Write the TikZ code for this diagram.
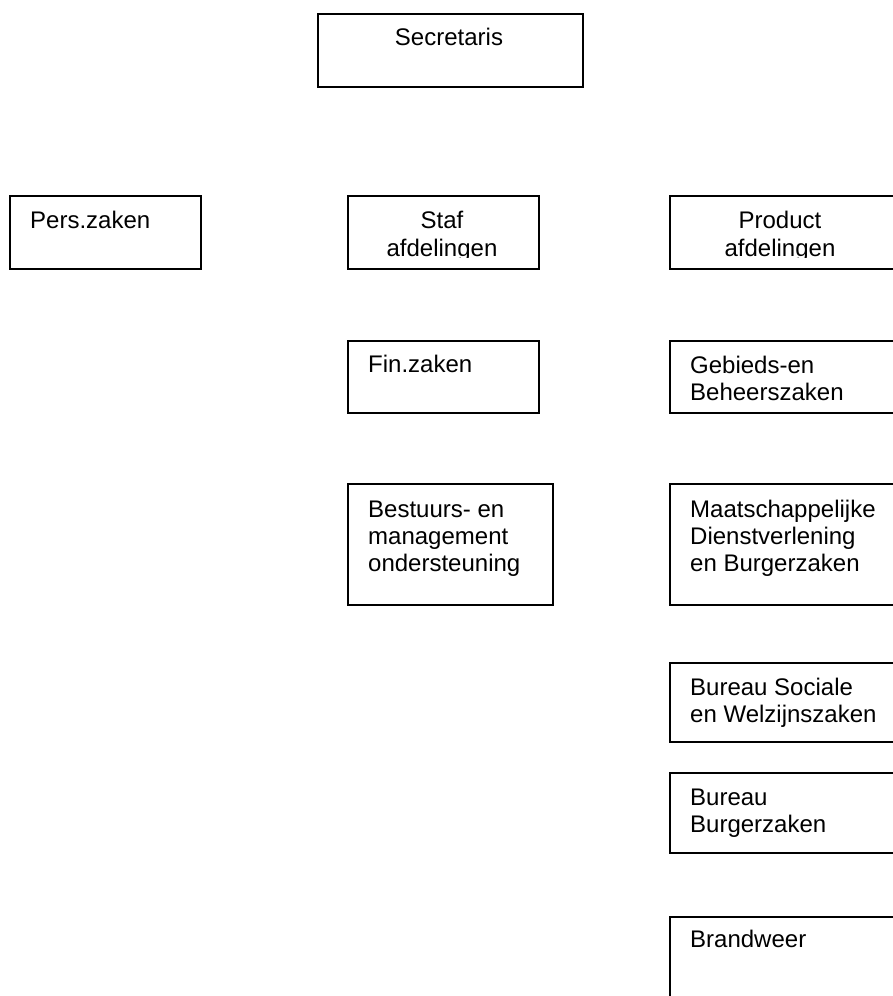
\documentclass[tikz,border=0pt]{standalone}
\usepackage{fontspec}
\setmainfont{Liberation Sans}
\begin{document}
\begin{tikzpicture}[x=1pt,y=1pt,
  box/.style={draw=black, line width=1.6pt, rectangle, inner sep=0pt, anchor=north west},
  lbl/.style={inner sep=0pt, font=\fontsize{24pt}{27pt}\selectfont, text=black},
  lw/.style={lbl, anchor=base west},
  lc/.style={lbl, anchor=base}]
\useasboundingbox (0,0) rectangle (893,-996);
\clip (0,0) rectangle (893,-996);
% boxes
\node[box, minimum width=265, minimum height=73] (sec) at (317,-13) {};
\node[box, minimum width=191, minimum height=73] (pers) at (9,-195) {};
\node[box, minimum width=191, minimum height=73] (staf) at (347,-195) {};
\node[box, minimum width=240, minimum height=73] (prod) at (669,-195) {};
\node[box, minimum width=191, minimum height=72] (fin) at (347,-340) {};
\node[box, minimum width=240, minimum height=72] (geb) at (669,-340) {};
\node[box, minimum width=205, minimum height=121] (best) at (347,-483) {};
\node[box, minimum width=240, minimum height=121] (maat) at (669,-483) {};
\node[box, minimum width=240, minimum height=79] (soc) at (669,-662) {};
\node[box, minimum width=240, minimum height=80] (burg) at (669,-772) {};
\node[box, minimum width=240, minimum height=120] (brand) at (669,-916) {};
% texts
\node[lc] (tsec) at (449,-45) {Secretaris};
\node[lw] (tpers) at (30,-228) {Pers.zaken};
\node[lc] (tstaf1) at (442,-228) {Staf};
\node[lc] (tprod1) at (780,-228) {Product};
\begin{scope}
  \clip (340,-190) rectangle (893,-257);
  \node[lc] (tstaf2) at (442,-256) {afdelingen};
  \node[lc] (tprod2) at (780,-256) {afdelingen};
\end{scope}
\node[lw] (tfin) at (368,-372) {Fin.zaken};
\node[lw] (tgeb1) at (690,-373) {Gebieds-en};
\node[lw] (tgeb2) at (690,-400) {Beheerszaken};
\node[lw] (tbest1) at (368,-517) {Bestuurs- en};
\node[lw] (tbest2) at (368,-544) {management};
\node[lw] (tbest3) at (368,-571) {ondersteuning};
\node[lw] (tmaat1) at (690,-517) {Maatschappelijke};
\node[lw] (tmaat2) at (690,-544) {Dienstverlening};
\node[lw] (tmaat3) at (690,-571) {en Burgerzaken};
\node[lw] (tsoc1) at (690,-695) {Bureau Sociale};
\node[lw] (tsoc2) at (690,-722) {en Welzijnszaken};
\node[lw] (tburg1) at (690,-805) {Bureau};
\node[lw] (tburg2) at (690,-832) {Burgerzaken};
\node[lw] (tbrand) at (690,-947) {Brandweer};
\end{tikzpicture}
\end{document}
